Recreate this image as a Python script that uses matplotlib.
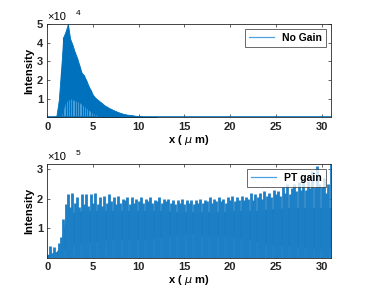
import matplotlib
matplotlib.use('Agg')
import matplotlib.pyplot as plt
import numpy as np

plt.rcParams['font.family'] = ['Liberation Sans', 'DejaVu Sans']

# ---- No Gain (units of 1e4) ----
x_ng = np.arange(0, 12.01, 0.25)
peak_ng = [0, 0, 0, 0.02, 0.1, 0.9, 2.5, 4.3, 4.6, 5.0, 4.2, 3.9, 3.5,
           3.2, 2.8, 2.4, 2.25, 2.0, 1.7, 1.45, 1.2, 1.05, 0.95, 0.85, 0.75,
           0.65, 0.58, 0.5, 0.45, 0.38, 0.33, 0.28, 0.24, 0.2, 0.17, 0.15,
           0.13, 0.12, 0.1, 0.08, 0.06, 0.05, 0.04, 0.03, 0.02, 0.02, 0.01,
           0.01, 0.0]
x_ng_light = [1.5, 2, 2.5, 3, 3.5, 4, 4.5, 5, 5.5, 6]
light_ng = [0.0, 0.8, 1.0, 0.9, 0.8, 0.6, 0.4, 0.2, 0.1, 0.0]

# ---- PT gain (units of 1e5) ----
x_pt = np.arange(0, 31.01, 0.25)
peak_pt = [0.05, 0.40, 0.15, 0.35, 0.20, 0.50, 0.70, 1.30, 1.80, 2.15, 1.70,
           2.20, 1.85, 2.05, 1.70, 2.15, 1.80, 2.15, 1.75, 2.15, 1.85, 2.20,
           1.80, 2.05, 1.75, 2.10, 1.85, 2.15, 1.90, 2.05, 1.80, 2.10, 1.85,
           2.00, 1.95, 2.05, 1.80, 2.05, 1.85, 2.00, 1.90, 2.05, 1.85, 2.00,
           1.90, 2.05, 1.85, 1.95, 1.90, 2.05, 1.85, 2.00, 1.90, 2.00, 1.85,
           1.95, 1.80, 1.95, 1.85, 2.00, 1.80, 1.95, 1.85, 1.95, 1.80, 1.95,
           1.85, 2.00, 1.85, 1.95, 1.90, 2.05, 1.85, 2.00, 1.90, 2.05, 1.90,
           2.00, 1.85, 2.05, 1.95, 2.10, 1.90, 2.05, 1.95, 2.10, 1.95, 2.05,
           2.00, 2.20, 1.95, 2.15, 2.05, 2.20, 2.00, 2.25, 2.10, 2.20, 2.05,
           2.30, 2.15, 2.25, 2.10, 2.40, 2.20, 2.50, 2.15, 2.35, 2.50, 2.25,
           2.55, 2.30, 2.70, 2.30, 2.60, 2.35, 2.95, 2.40, 3.10, 2.50, 2.40,
           2.70, 2.20, 2.50, 3.20]
x_core = [0, 1, 1.5, 2, 3, 4, 5, 6, 7, 8, 9, 10, 11, 12, 13, 14, 15, 16, 17,
          18, 19, 20, 21, 22, 23, 24, 25, 26, 27, 28, 29, 30, 31]
core_hi = [0.1, 0.2, 0.5, 1.4, 1.55, 1.6, 1.6, 1.6, 1.6, 1.6, 1.6, 1.6, 1.6,
           1.6, 1.6, 1.55, 1.55, 1.55, 1.55, 1.55, 1.55, 1.6, 1.6, 1.6, 1.6,
           1.65, 1.65, 1.7, 1.7, 1.7, 1.7, 1.7, 1.7]
core_lo = [0, 0, 0.1, 0.3, 0.45, 0.5, 0.5, 0.55, 0.6, 0.6, 0.6, 0.6, 0.6,
           0.65, 0.7, 0.75, 0.8, 0.8, 0.75, 0.7, 0.7, 0.7, 0.65, 0.6, 0.5,
           0.45, 0.4, 0.4, 0.35, 0.35, 0.3, 0.3, 0.3]

blue = '#0072BD'
light = '#4f9fd8'
mid = '#1d7fc5'

fig = plt.figure(figsize=(3.65, 2.95), dpi=100)
ax1 = fig.add_axes([0.1296, 0.602, 0.7766, 0.3166])
ax2 = fig.add_axes([0.1296, 0.127, 0.7766, 0.317])

# top panel
ax1.plot([0, 31], [0, 0], color=blue, lw=1.2)
ax1.fill_between(x_ng, 0, np.array(peak_ng) * 1e4, color=blue, lw=0.6,
                 edgecolor=blue)
ax1.fill_between(x_ng_light, 0, np.array(light_ng) * 1e4, color=light, lw=0)
ax1.vlines(x_ng, 0, np.array(peak_ng) * 1e4, color=blue, lw=0.8)
ax1.plot([], [], color='#4aa3e0', lw=0.9, label='No Gain')
ax1.set_ylim(0, 5e4)
ax1.set_yticks([1e4, 2e4, 3e4, 4e4, 5e4])
ax1.set_yticklabels(['1', '2', '3', '4', '5'])
ax1.text(0, 1.02, '×10', transform=ax1.transAxes, fontsize=8, va='bottom')
ax1.text(0.1, 1.07, '4', transform=ax1.transAxes, fontsize=6, va='bottom')

# bottom panel
ax2.vlines(x_pt, 0, np.array(peak_pt) * 1e5, color=mid, lw=2.0)
ax2.fill_between(x_core, 0, np.array(core_lo) * 1e5, color=light, lw=0)
ax2.fill_between(x_core, np.array(core_lo) * 1e5, np.array(core_hi) * 1e5,
                 color=blue, lw=0)
ax2.plot([], [], color='#4aa3e0', lw=0.9, label='PT gain')
ax2.set_ylim(0, 3.17e5)
ax2.set_yticks([1e5, 2e5, 3e5])
ax2.set_yticklabels(['1', '2', '3'])
ax2.text(0, 1.02, '×10', transform=ax2.transAxes, fontsize=8, va='bottom')
ax2.text(0.1, 1.07, '5', transform=ax2.transAxes, fontsize=6, va='bottom')

for ax in (ax1, ax2):
    ax.set_xlim(0, 31)
    ax.set_xticks([0, 5, 10, 15, 20, 25, 30])
    ax.tick_params(direction='in', length=2.5, width=0.5, labelsize=8,
                   top=True, right=True, colors='#262626', pad=3)
    for lab in ax.get_xticklabels() + ax.get_yticklabels():
        lab.set_fontweight('bold')
    for s in ax.spines.values():
        s.set_linewidth(0.6)
        s.set_color('#262626')
    ax.set_xlabel('x ( $\\mu$ m)', fontsize=8, fontweight='bold', labelpad=1)
    ax.set_ylabel('Intensity', fontsize=8, fontweight='bold', labelpad=2)
    leg = ax.legend(loc='upper right', fancybox=False, edgecolor='#262626',
                    handlelength=2.4, borderpad=0.35,
                    prop={'weight': 'bold', 'size': 7.5})
    leg.get_frame().set_linewidth(0.6)

plt.savefig('out.png', dpi=100)
plt.close()
